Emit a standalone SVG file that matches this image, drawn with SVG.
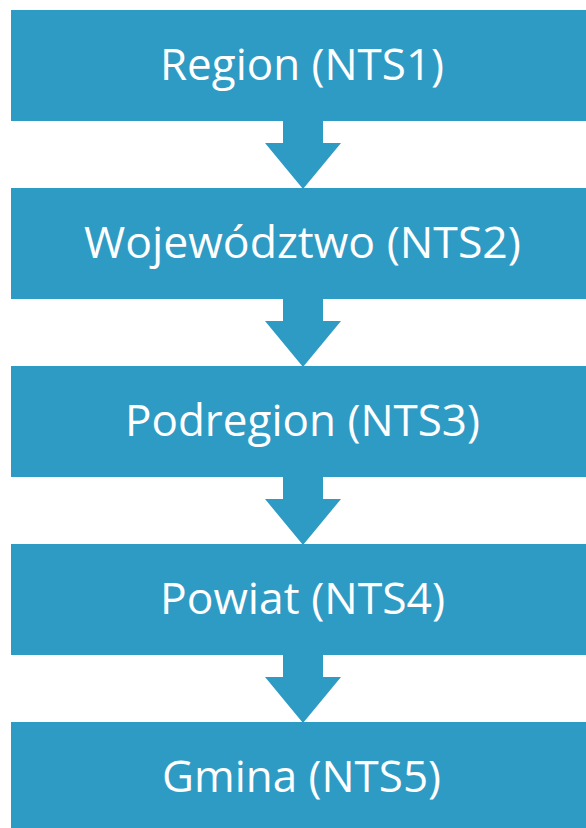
<svg xmlns="http://www.w3.org/2000/svg" width="586" height="828" viewBox="0 0 586 828">
<style>
.box{fill:#2E9BC5}
.arr{fill:#2E9BC5}
.lbl{font-family:"Open Sans","Liberation Sans",sans-serif;font-size:44px;fill:#ffffff;text-anchor:middle}
</style>
<defs>
<path id="ar" d="M283,0 H323 V22 H341 L303,68 L265,22 H283 Z"/>
</defs>
<rect width="586" height="828" fill="#ffffff"/>
<g id="connectors">
<use href="#ar" class="arr" transform="translate(0,121)"/>
<use href="#ar" class="arr" transform="translate(0,299)"/>
<use href="#ar" class="arr" transform="translate(0,477)"/>
<use href="#ar" class="arr" transform="translate(0,655)"/>
</g>
<g id="n1"><rect class="box" x="11" y="10" width="584" height="111"/><text class="lbl" x="302" y="80" textLength="284" lengthAdjust="spacingAndGlyphs">Region (NTS1)</text></g>
<g id="n2"><rect class="box" x="11" y="188" width="584" height="111"/><text class="lbl" x="302.5" y="258" textLength="437" lengthAdjust="spacingAndGlyphs">Województwo (NTS2)</text></g>
<g id="n3"><rect class="box" x="11" y="366" width="584" height="111"/><text class="lbl" x="302.5" y="436" textLength="355" lengthAdjust="spacingAndGlyphs">Podregion (NTS3)</text></g>
<g id="n4"><rect class="box" x="11" y="544" width="584" height="111"/><text class="lbl" x="302.5" y="614" textLength="285" lengthAdjust="spacingAndGlyphs">Powiat (NTS4)</text></g>
<g id="n5"><rect class="box" x="11" y="722" width="584" height="111"/><text class="lbl" x="301.5" y="792" textLength="279" lengthAdjust="spacingAndGlyphs">Gmina (NTS5)</text></g>
</svg>
